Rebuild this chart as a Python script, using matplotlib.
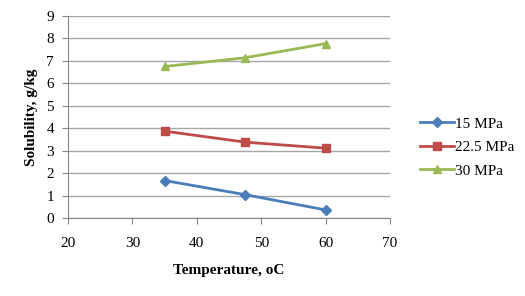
import matplotlib.pyplot as plt

temps = [35, 47.5, 60]
s15 = [1.67, 1.04, 0.36]
s225 = [3.87, 3.38, 3.11]
s30 = [6.75, 7.14, 7.77]
labels = ["15 MPa", "22.5 MPa", "30 MPa"]

plt.rcParams['font.family'] = ['Liberation Serif', 'DejaVu Serif']

fig = plt.figure(figsize=(5.25, 2.96), dpi=100)
ax = fig.add_axes([0.1295, 0.2635, 0.6135, 0.6825])

ax.plot(temps, s15, '-D', color='#4a7ebb', lw=2, ms=5, label=labels[0])
ax.plot(temps, s225, '-s', color='#be4b48', lw=2, ms=6, label=labels[1])
ax.plot(temps, s30, '-^', color='#98b954', lw=2, ms=6, label=labels[2])

ax.set_xlim(20, 70)
ax.set_ylim(0, 9)
ax.set_xticks(range(20, 71, 10))
ax.set_yticks(range(0, 10))
ax.grid(axis='y', color='#a6a6a6', lw=1)
ax.set_axisbelow(True)
for s in ['top', 'right']:
    ax.spines[s].set_visible(False)
for s in ['left', 'bottom']:
    ax.spines[s].set_color('#868686')
ax.tick_params(colors='#868686', labelcolor='black', labelsize=11, length=4, direction='out')
ax.tick_params(axis='x', pad=10)
ax.tick_params(axis='y', pad=6)

ax.set_xlabel("Temperature, oC", fontsize=11, fontweight='bold', labelpad=10)
ax.set_ylabel("Solubility, g/kg", fontsize=11, fontweight='bold', labelpad=6)

ax.legend(loc='center left', bbox_to_anchor=(1.05, 0.35), frameon=False, fontsize=11,
          handlelength=2.2, labelspacing=0.65, handletextpad=0.1)

fig.savefig("out.png", dpi=100)
